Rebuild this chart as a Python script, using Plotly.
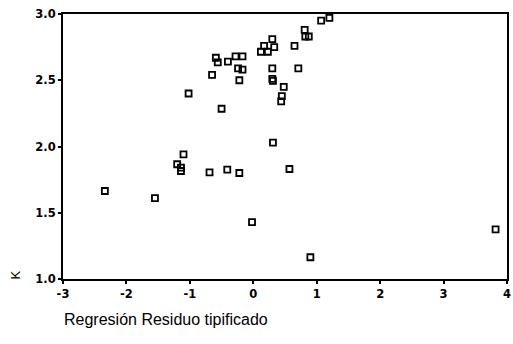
import plotly.graph_objects as go

residuo = [-2.34, -1.55, -1.20, -1.14, -1.14, -1.10, -0.69, -0.41, -0.22, -0.02,
           0.57, 0.90, 3.82, 0.31,
           -1.02, -0.65, -0.59, -0.56, -0.40, -0.50, -0.28, -0.17, -0.24, -0.17, -0.22,
           1.07, 1.20, 0.81, 0.82, 0.875, 0.30, 0.65, 0.17, 0.33, 0.12, 0.23,
           0.30, 0.71, 0.30, 0.31, 0.48, 0.45, 0.44]
k_vals = [1.664, 1.61, 1.866, 1.84, 1.815, 1.94, 1.805, 1.825, 1.80, 1.43,
          1.83, 1.164, 1.375, 2.03,
          2.40, 2.54, 2.67, 2.635, 2.64, 2.285, 2.68, 2.68, 2.59, 2.58, 2.50,
          2.95, 2.97, 2.88, 2.83, 2.83, 2.81, 2.76, 2.76, 2.75, 2.715, 2.715,
          2.59, 2.59, 2.51, 2.495, 2.45, 2.38, 2.34]

x_ticks = [-3, -2, -1, 0, 1, 2, 3, 4]
x_tick_labels = ["-3", "-2", "-1", "0", "1", "2", "3", "4"]
y_ticks = [1.0, 1.5, 2.0, 2.5, 3.0]
y_tick_labels = ["1.0", "1.5", "2.0", "2.5", "3.0"]

fig = go.Figure(go.Scatter(
    x=residuo, y=k_vals, mode="markers",
    marker=dict(symbol="square-open", size=6, color="black", line=dict(width=1.8)),
    cliponaxis=False,
))

axis_common = dict(showgrid=False, zeroline=False, showline=True, linecolor="black",
                   linewidth=2, mirror=True, ticks="outside", ticklen=3, tickwidth=2,
                   tickcolor="black", ticklabeloverflow="allow",
                   tickfont=dict(family="DejaVu Sans", size=11.5, color="black", weight="bold"))

fig.update_xaxes(range=[-3, 4], tickvals=x_ticks,
                 ticktext=["<b>" + t + "</b>" for t in x_tick_labels], **axis_common)
fig.update_yaxes(range=[1.0, 3.0], tickvals=y_ticks,
                 ticktext=["<b>" + t + "</b>" for t in y_tick_labels], **axis_common)

fig.update_layout(
    width=513, height=344,
    margin=dict(l=63, r=2, t=14, b=65),
    paper_bgcolor="white", plot_bgcolor="white",
    showlegend=False,
    annotations=[
        dict(text="K", xref="paper", yref="paper", x=-0.107, y=0.015, textangle=-90,
             showarrow=False, font=dict(family="Liberation Sans", size=13, color="black"),
             xanchor="center", yanchor="middle"),
        dict(text="Regresión Residuo tipificado", xref="paper", yref="paper",
             x=-0.003, y=-0.115, showarrow=False, xanchor="left", yanchor="top",
             font=dict(family="Liberation Sans", size=16, color="black")),
    ],
)

fig.write_html("out.html")
